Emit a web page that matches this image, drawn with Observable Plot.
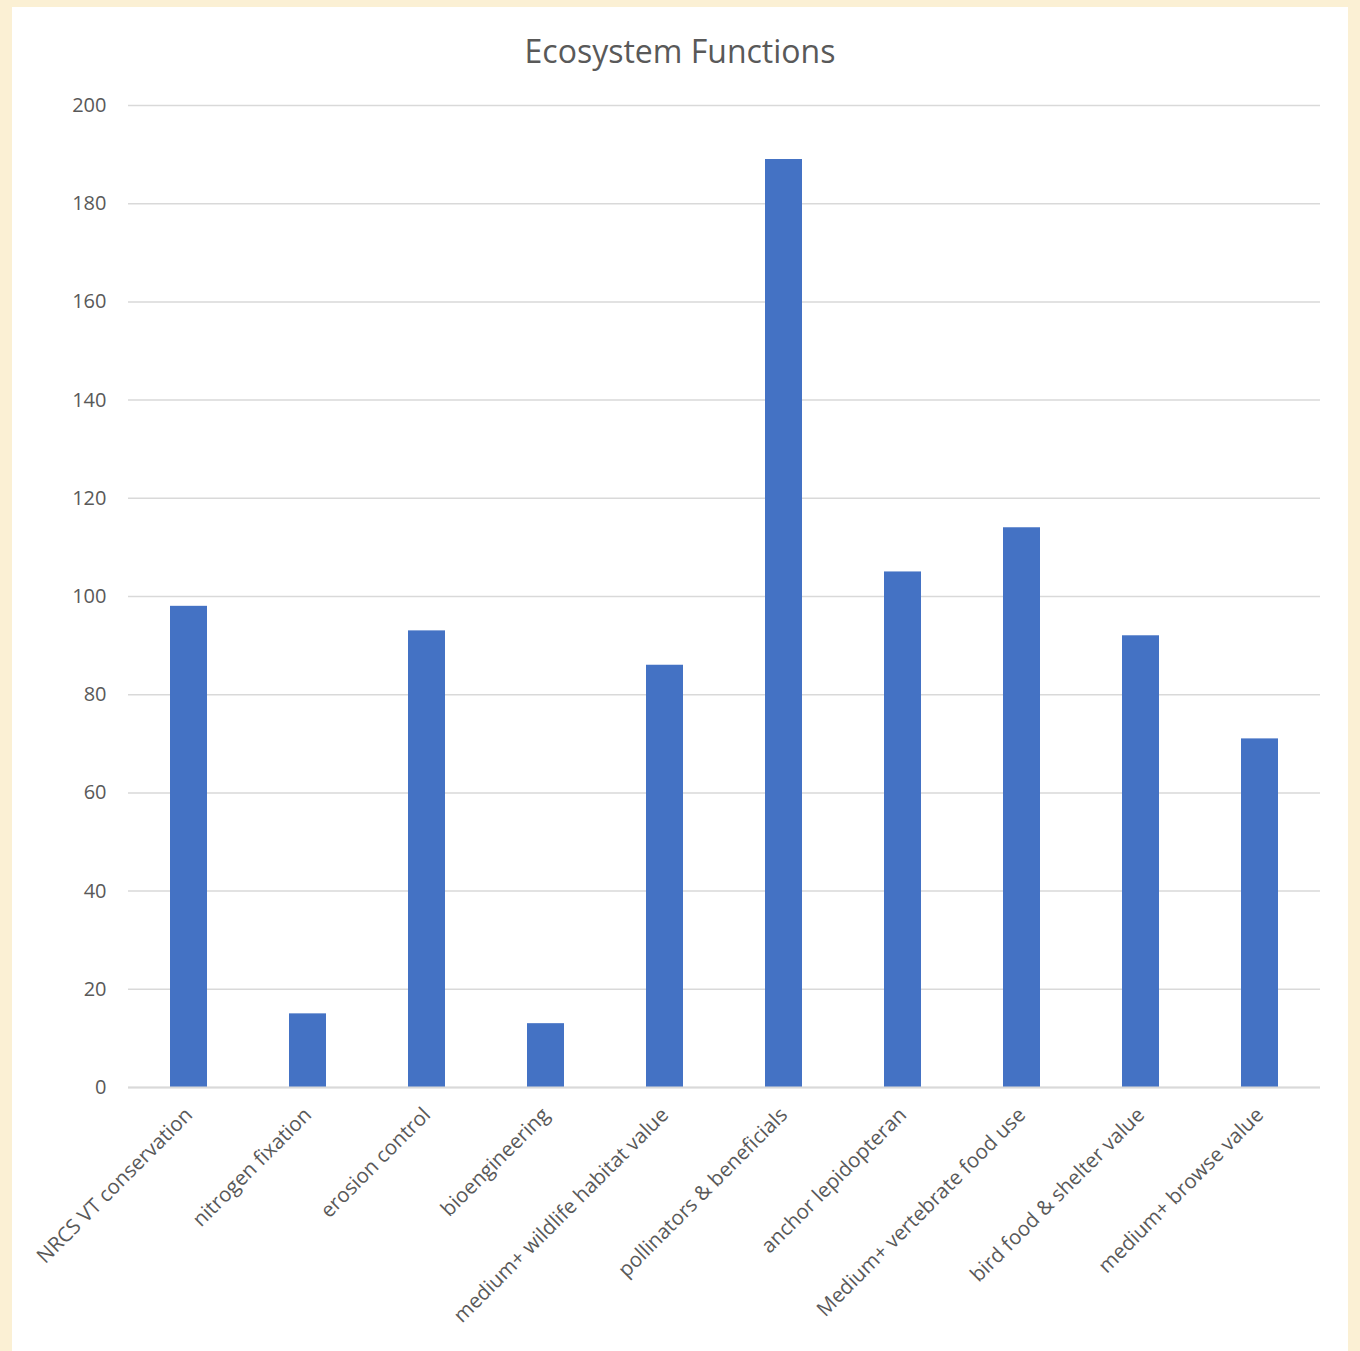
<!DOCTYPE html>
<html>
<head>
<meta charset="utf-8">
<script src="https://cdn.jsdelivr.net/npm/d3@7"></script>
<script src="https://cdn.jsdelivr.net/npm/@observablehq/plot@0.6"></script>
<style>
  html, body { margin: 0; padding: 0; }
  body { width: 1360px; height: 1351px; background: #fbf0d4; position: relative; overflow: hidden; font-family: "Open Sans", sans-serif; }
  #panel { position: absolute; left: 12px; top: 7px; width: 1336px; height: 1344px; background: #ffffff; }
  #title { position: absolute; left: 0; top: 24px; width: 1336px; text-align: center; font-size: 32px; color: #595959; line-height: 40px; }
  #chart { position: absolute; left: 0; top: 80px; }
</style>
</head>
<body>
<div id="panel">
  <div id="title">Ecosystem Functions</div>
  <div id="chart"></div>
</div>
<script>
const categories = [
  "NRCS VT conservation",
  "nitrogen fixation",
  "erosion control",
  "bioengineering",
  "medium+ wildlife habitat value",
  "pollinators & beneficials",
  "anchor lepidopteran",
  "Medium+ vertebrate food use",
  "bird food & shelter value",
  "medium+ browse value"
];
const values = [98, 15, 93, 13, 86, 189, 105, 114, 92, 71];
const yTicks = [0, 20, 40, 60, 80, 100, 120, 140, 160, 180, 200];

const data = categories.map((c, i) => ({category: c, value: values[i]}));

const chart = Plot.plot({
  width: 1336,
  height: 1264,
  marginTop: 18,
  marginBottom: 264,
  marginLeft: 116,
  marginRight: 28,
  style: {fontFamily: "'Open Sans', sans-serif", fontSize: "20px", color: "#595959", background: "transparent"},
  x: {domain: categories, paddingInner: 0.69, paddingOuter: 0.345, label: null},
  y: {domain: [0, 200], label: null},
  marks: [
    Plot.gridY(yTicks, {stroke: "#d9d9d9", strokeOpacity: 1, strokeWidth: 1.5}),
    Plot.axisY(yTicks, {tickSize: 0, tickPadding: 22, label: null, fill: "#595959", fontSize: 20}),
    Plot.barY(data, {x: "category", y: "value", fill: "#4472c4"}),
    Plot.ruleY([0], {stroke: "#d9d9d9", strokeWidth: 2}),
    Plot.axisX({tickSize: 0, tickPadding: 24, tickRotate: -45, label: null, fill: "#595959", fontSize: 20.5})
  ]
});
document.getElementById("chart").appendChild(chart);
</script>
</body>
</html>
